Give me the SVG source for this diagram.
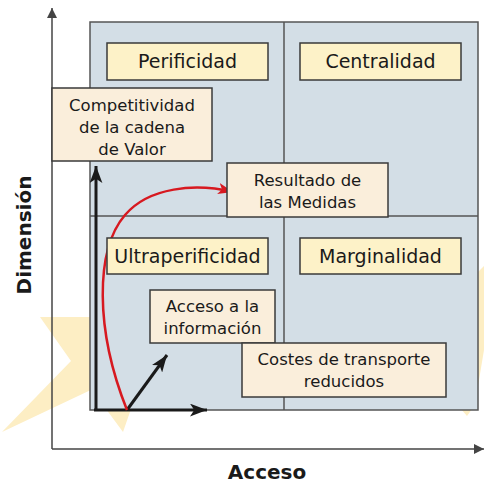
<svg xmlns="http://www.w3.org/2000/svg" width="484" height="485" viewBox="0 0 484 485">
<style>
.wm{fill:#fdeec4;}
.grid{fill:#d3dee6;stroke:#555;stroke-width:1.5;}
.gl{stroke:#555;stroke-width:1.5;fill:none;}
.title{fill:#fdf2c8;stroke:#3a3a3a;stroke-width:1.5;}
.fac{fill:#faeedb;stroke:#3a3a3a;stroke-width:1.5;}
text{font-family:"DejaVu Sans",Verdana,sans-serif;fill:#1a1a1a;text-anchor:middle;}
.tt{font-size:19px;}
.ft{font-size:16.5px;}
.ax{font-size:20px;font-weight:bold;}
.axis{stroke:#444;stroke-width:1.5;fill:none;}
.thick{stroke:#1a1a1a;stroke-width:3;fill:none;}
.red{stroke:#d71920;stroke-width:2.5;fill:none;}
</style>
<defs>
<marker id="ah" viewBox="0 0 10 10" refX="10" refY="5" markerWidth="10" markerHeight="10" markerUnits="userSpaceOnUse" orient="auto"><path d="M0,0 L10,5 L0,10 z" fill="#444"/></marker>
<marker id="bh" viewBox="0 0 16 12" refX="16" refY="6" markerWidth="17" markerHeight="13" markerUnits="userSpaceOnUse" orient="auto"><path d="M0,0 L16,6 L0,12 L4,6 z" fill="#1a1a1a"/></marker>
<marker id="rh" viewBox="0 0 16 12" refX="16" refY="6" markerWidth="15" markerHeight="12" markerUnits="userSpaceOnUse" orient="auto"><path d="M0,0 L16,6 L0,12 L4,6 z" fill="#d71920"/></marker>
</defs>
<g id="watermark">
<polygon class="wm" points="40,317 95,317 95,388 2,432 71,361"/>
<polygon class="wm" points="106,409 131,409 123,432"/>
<polygon class="wm" points="478,272 484,266 484,350 478,386"/>
<polygon class="wm" points="461,409 472,409 467,416"/>
</g>
<g id="grid">
<rect class="grid" x="90" y="22" width="388" height="388"/>
<line class="gl" x1="284" y1="22" x2="284" y2="410"/>
<line class="gl" x1="90" y1="216" x2="478" y2="216"/>
</g>
<g id="axes">
<line class="axis" x1="52" y1="449" x2="52" y2="8" marker-end="url(#ah)"/>
<line class="axis" x1="52" y1="449" x2="484" y2="449" marker-end="url(#ah)"/>
<text class="ax" x="267" y="479">Acceso</text>
<text class="ax" transform="translate(31,235) rotate(-90)" x="0" y="0">Dimensión</text>
</g>
<g id="connectors">
<line class="thick" x1="96" y1="411" x2="96" y2="166" marker-end="url(#bh)"/>
<line class="thick" x1="94" y1="410" x2="207" y2="410" marker-end="url(#bh)"/>
<line class="thick" x1="127" y1="410" x2="167" y2="355" stroke-width="2.5" marker-end="url(#bh)"/>
<path class="red" d="M127,410 C95,330 95,250 125,215 C149,187 195,183 233,192" marker-end="url(#rh)"/>
</g>
<g id="perificidad">
<rect class="title" x="107" y="43" width="161" height="37"/>
<text class="tt" x="187.5" y="68">Perificidad</text>
</g>
<g id="centralidad">
<rect class="title" x="300" y="43" width="161" height="37"/>
<text class="tt" x="380.5" y="68">Centralidad</text>
</g>
<g id="ultraperificidad">
<rect class="title" x="107" y="238" width="161" height="36"/>
<text class="tt" x="187.5" y="263">Ultraperificidad</text>
</g>
<g id="marginalidad">
<rect class="title" x="300" y="238" width="161" height="36"/>
<text class="tt" x="380.5" y="263">Marginalidad</text>
</g>
<g id="competitividad">
<rect class="fac" x="52" y="88" width="160" height="73"/>
<text class="ft" x="132" y="111">Competitividad</text>
<text class="ft" x="132" y="133">de la cadena</text>
<text class="ft" x="132" y="155">de Valor</text>
</g>
<g id="resultado">
<rect class="fac" x="227" y="163" width="161" height="54"/>
<text class="ft" x="307.5" y="186">Resultado de</text>
<text class="ft" x="307.5" y="208">las Medidas</text>
</g>
<g id="acceso-info">
<rect class="fac" x="150" y="290" width="125" height="53"/>
<text class="ft" x="212.5" y="312">Acceso a la</text>
<text class="ft" x="212.5" y="334">información</text>
</g>
<g id="costes">
<rect class="fac" x="242" y="343" width="204" height="54"/>
<text class="ft" x="344" y="365">Costes de transporte</text>
<text class="ft" x="344" y="387">reducidos</text>
</g>
</svg>
